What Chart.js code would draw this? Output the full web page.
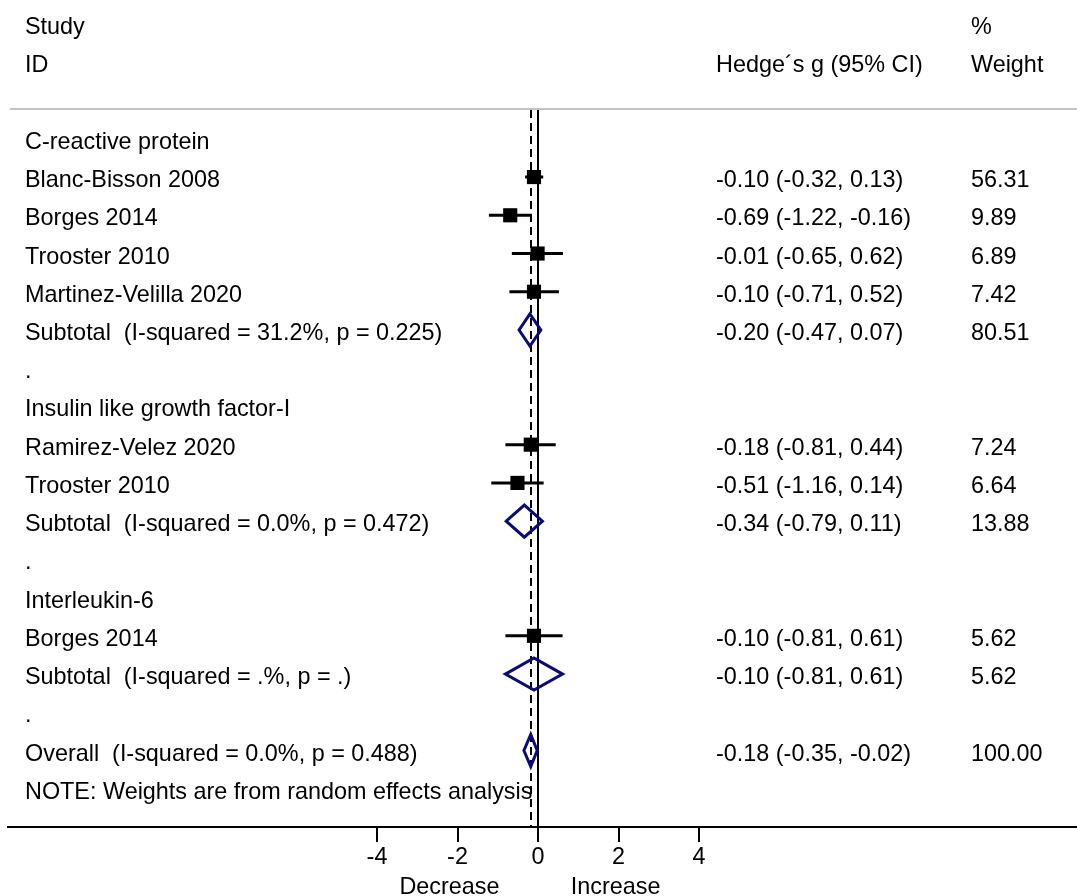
<!DOCTYPE html>
<html>
<head>
<meta charset="utf-8">
<script src="https://cdn.jsdelivr.net/npm/chart.js@4/dist/chart.umd.min.js"></script>
<style>
  body { margin: 0; background: #fff; }
</style>
</head>
<body>
<canvas id="forest" width="1077" height="896"></canvas>
<script>
// forest plot rows, top to bottom (row index = y value)
const rowLabels = [
  'C-reactive protein',
  'Blanc-Bisson 2008',
  'Borges 2014',
  'Trooster 2010',
  'Martinez-Velilla 2020',
  'Subtotal  (I-squared = 31.2%, p = 0.225)',
  '.',
  'Insulin like growth factor-I',
  'Ramirez-Velez 2020',
  'Trooster 2010',
  'Subtotal  (I-squared = 0.0%, p = 0.472)',
  '.',
  'Interleukin-6',
  'Borges 2014',
  'Subtotal  (I-squared = .%, p = .)',
  '.',
  'Overall  (I-squared = 0.0%, p = 0.488)',
  'NOTE: Weights are from random effects analysis'
];
const estimate  = [null, -0.10, -0.69, -0.01, -0.10, -0.20, null, null, -0.18, -0.51, -0.34, null, null, -0.10, -0.10, null, -0.18, null];
const ciLow     = [null, -0.32, -1.22, -0.65, -0.71, -0.47, null, null, -0.81, -1.16, -0.79, null, null, -0.81, -0.81, null, -0.35, null];
const ciHigh    = [null,  0.13, -0.16,  0.62,  0.52,  0.07, null, null,  0.44,  0.14,  0.11, null, null,  0.61,  0.61, null, -0.02, null];
const weightPct = [null, 56.31, 9.89, 6.89, 7.42, 80.51, null, null, 7.24, 6.64, 13.88, null, null, 5.62, 5.62, null, 100.00, null];
const pooledRows = [5, 10, 14, 16];
const overallEstimate = -0.18;

const headerLeft = ['Study', 'ID'];
const headerEffect = 'Hedge\u00b4s g (95% CI)';
const headerWeight = ['%', 'Weight'];
const xTickValues = [-4, -2, 0, 2, 4];
const xTickLabels = ['-4', '-2', '0', '2', '4'];
const sideLabels = ['Decrease', 'Increase'];

const FAMILY = '"Liberation Sans", Arial, Helvetica, sans-serif';
const FONT = '23.4px ' + FAMILY;
const NAVY = '#0a0a78';

const isStudy = i => estimate[i] !== null && !pooledRows.includes(i);

// CI whiskers: one line dataset, broken by null points
const ciData = [];
rowLabels.forEach((_, i) => {
  if (isStudy(i)) {
    ciData.push({x: ciLow[i], y: i}, {x: ciHigh[i], y: i}, {x: null, y: null});
  }
});
const pointData = rowLabels.map((_, i) => i).filter(isStudy).map(i => ({x: estimate[i], y: i}));

const diamondHalf = 0.42;
const diamondSets = pooledRows.map(i => ({
  data: [
    {x: ciLow[i], y: i},
    {x: estimate[i], y: i - diamondHalf},
    {x: ciHigh[i], y: i},
    {x: estimate[i], y: i + diamondHalf},
    {x: ciLow[i], y: i},
    {x: estimate[i], y: i - diamondHalf}
  ],
  showLine: true,
  borderColor: NAVY,
  borderWidth: 3,
  pointRadius: 0,
  tension: 0,
  fill: false
}));

const forestPlugin = {
  id: 'forest',
  beforeDatasetsDraw(chart) {
    const {ctx, chartArea: a, scales: {x}} = chart;
    ctx.save();
    ctx.strokeStyle = '#c4c4c4';
    ctx.lineWidth = 2;
    ctx.beginPath();
    ctx.moveTo(10, a.top);
    ctx.lineTo(chart.width, a.top);
    ctx.stroke();

    ctx.strokeStyle = '#000';
    const x0 = Math.round(x.getPixelForValue(0));
    ctx.beginPath();
    ctx.moveTo(x0, a.top + 1);
    ctx.lineTo(x0, a.bottom);
    ctx.stroke();

    const xo = Math.round(x.getPixelForValue(overallEstimate));
    ctx.setLineDash([8, 5]);
    ctx.beginPath();
    ctx.moveTo(xo, a.top + 1);
    ctx.lineTo(xo, a.bottom);
    ctx.stroke();
    ctx.restore();
  },
  afterDraw(chart) {
    const {ctx, scales: {x, y}} = chart;
    const base = r => y.getPixelForValue(r) + 10;
    ctx.save();
    ctx.fillStyle = '#000';
    ctx.font = FONT;
    ctx.textBaseline = 'alphabetic';
    ctx.textAlign = 'left';

    // header
    ctx.fillText(headerLeft[0], 25, base(-3));
    ctx.fillText(headerWeight[0], 971, base(-3));
    ctx.fillText(headerLeft[1], 25, base(-2));
    ctx.fillText(headerEffect, 716, base(-2));
    ctx.fillText(headerWeight[1], 971, base(-2));

    rowLabels.forEach((lab, i) => {
      ctx.fillText(lab, 25, base(i));
      if (estimate[i] !== null) {
        const txt = estimate[i].toFixed(2) + ' (' + ciLow[i].toFixed(2) + ', ' + ciHigh[i].toFixed(2) + ')';
        ctx.fillText(txt, 716, base(i));
        ctx.fillText(weightPct[i].toFixed(2), 971, base(i));
      }
    });

    ctx.textAlign = 'center';
    ctx.fillText(sideLabels[0], x.getPixelForValue(-2.2), 894);
    ctx.fillText(sideLabels[1], x.getPixelForValue(1.93), 894);
    ctx.restore();
  }
};

new Chart(document.getElementById('forest'), {
  type: 'scatter',
  data: {
    datasets: [
      {
        data: ciData,
        showLine: true,
        spanGaps: false,
        borderColor: '#000',
        borderWidth: 3,
        pointRadius: 0
      },
      {
        data: pointData,
        pointStyle: 'rect',
        pointRadius: 10,
        backgroundColor: '#000',
        borderWidth: 0
      },
      ...diamondSets
    ]
  },
  options: {
    responsive: false,
    animation: false,
    layout: { autoPadding: false, padding: { top: 109, left: 8, right: 0, bottom: 0 } },
    plugins: { legend: { display: false }, tooltip: { enabled: false } },
    scales: {
      x: {
        type: 'linear',
        min: -530 / 40.25,
        max: 539 / 40.25,
        afterBuildTicks: s => { s.ticks = xTickValues.map(v => ({value: v})); },
        afterFit: s => { s.height = 69; s.paddingLeft = 0; s.paddingRight = 0; },
        ticks: {
          callback: (v, i) => xTickLabels[i],
          color: '#000',
          padding: 2,
          maxRotation: 0,
          autoSkip: false,
          font: { family: FAMILY, size: 23.4 }
        },
        grid: { drawOnChartArea: false, drawTicks: true, tickLength: 15, color: '#000', lineWidth: 2 },
        border: { display: true, color: '#000', width: 2 }
      },
      y: {
        type: 'linear',
        display: false,
        reverse: true,
        min: -0.78,
        max: 18
      }
    }
  },
  plugins: [forestPlugin]
});
</script>
</body>
</html>
